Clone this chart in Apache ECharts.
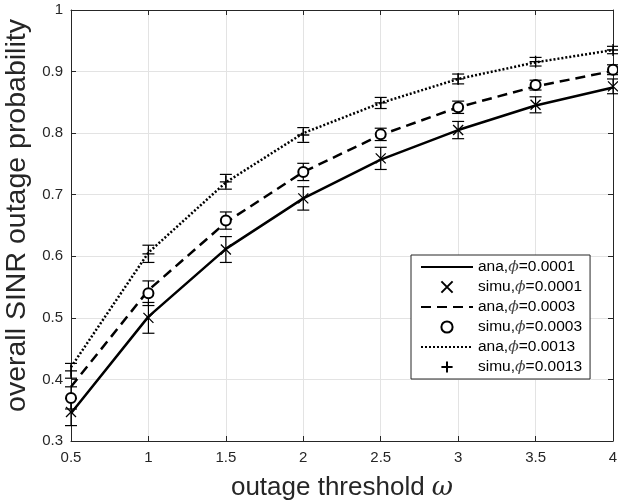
<!DOCTYPE html>
<html lang="en">
<head>
<meta charset="UTF-8">
<title>overall SINR outage probability</title>
<script src="https://cdn.jsdelivr.net/npm/echarts@6/dist/echarts.min.js"></script>
<style>html,body{margin:0;padding:0;background:#fff}</style>
</head>
<body>
<div id="main" style="width:618px;height:504px"></div>
<script>
// outage threshold omega
var thresholds = [0.5, 1, 1.5, 2, 2.5, 3, 3.5, 4];

// phi = 0.0001
var ana1  = [0.345, 0.502, 0.612, 0.694, 0.757, 0.805, 0.845, 0.874];
var simu1 = [0.347, 0.500, 0.611, 0.694, 0.759, 0.805, 0.846, 0.876];
var err1  = [0.022, 0.025, 0.021, 0.019, 0.018, 0.014, 0.013, 0.012];

// phi = 0.0003
var ana2  = [0.388, 0.545, 0.655, 0.737, 0.797, 0.842, 0.876, 0.901];
var simu2 = [0.370, 0.540, 0.658, 0.737, 0.798, 0.842, 0.878, 0.903];
var err2  = [0.018, 0.020, 0.014, 0.014, 0.010, 0.010, 0.008, 0.008];

// phi = 0.0013
var ana3  = [0.420, 0.606, 0.720, 0.800, 0.849, 0.888, 0.915, 0.935];
var simu3 = [0.414, 0.604, 0.721, 0.797, 0.849, 0.888, 0.916, 0.935];
var err3  = [0.012, 0.014, 0.012, 0.012, 0.009, 0.008, 0.007, 0.006];

var names = ['ana,ϕ=0.0001', 'simu,ϕ=0.0001', 'ana,ϕ=0.0003', 'simu,ϕ=0.0003', 'ana,ϕ=0.0013', 'simu,ϕ=0.0013'];

var ink = '#000';
var axisInk = '#262626';
var crossPath = 'path://M0,0L10,10M10,0L0,10';
var plusPath = 'path://M5,0L5,10M0,5L10,5';

function pairs(ys) {
	return thresholds.map(function (x, i) { return [x, ys[i]]; });
}

function anaSeries(name, ys, dash) {
	return {
		name: name,
		type: 'line',
		data: pairs(ys),
		symbol: 'circle',
		showSymbol: false,
		color: ink,
		itemStyle: { opacity: 0 },
		lineStyle: { color: ink, width: 2.5, type: dash },
		z: 4,
		silent: true
	};
}

function simuSeries(name, ys, symbol, size) {
	return {
		name: name,
		type: 'line',
		data: pairs(ys),
		symbol: symbol,
		symbolSize: size,
		showSymbol: true,
		color: ink,
		itemStyle: { color: ink, borderColor: ink, borderWidth: 1.3 },
		lineStyle: { opacity: 0, width: 0 },
		z: 5,
		silent: true
	};
}

function errorSeries(ys, errs) {
	return {
		type: 'custom',
		data: thresholds.map(function (x, i) { return [x, ys[i] - errs[i], ys[i] + errs[i]]; }),
		encode: { x: 0, y: [1, 2] },
		z: 3,
		silent: true,
		renderItem: function (params, api) {
			var lo = api.coord([api.value(0), api.value(1)]);
			var hi = api.coord([api.value(0), api.value(2)]);
			var w = 6;
			var st = { stroke: ink, lineWidth: 1.2 };
			return {
				type: 'group',
				children: [
					{ type: 'line', shape: { x1: lo[0], y1: lo[1], x2: hi[0], y2: hi[1] }, style: st },
					{ type: 'line', shape: { x1: lo[0] - w, y1: lo[1], x2: lo[0] + w, y2: lo[1] }, style: st },
					{ type: 'line', shape: { x1: hi[0] - w, y1: hi[1], x2: hi[0] + w, y2: hi[1] }, style: st }
				]
			};
		}
	};
}

var baseFont = 'Liberation Sans';

var myChart = echarts.init(document.getElementById('main'));
var option = {
	animation: false,
	backgroundColor: '#fff',
	grid: { left: 71, right: 5, top: 10, bottom: 63, outerBoundsMode: 'none' },
	xAxis: [
		{
			type: 'value', min: 0.5, max: 4, interval: 0.5, position: 'bottom',
			axisLine: { onZero: false, lineStyle: { color: axisInk, width: 1 } },
			axisTick: { inside: true, length: 5, lineStyle: { color: axisInk } },
			axisLabel: { color: axisInk, fontSize: 15, margin: 9, fontFamily: baseFont },
			splitLine: { show: true, lineStyle: { color: '#e3e3e3', width: 1 } },
			name: 'outage threshold {i|ω}',
			nameLocation: 'middle',
			nameGap: 34,
			nameTextStyle: {
				color: axisInk, fontSize: 26, fontFamily: baseFont,
				rich: { i: { fontSize: 26, fontStyle: 'italic', fontFamily: 'DejaVu Serif', color: axisInk } }
			}
		},
		{
			type: 'value', min: 0.5, max: 4, interval: 0.5, position: 'top',
			axisLine: { onZero: false, lineStyle: { color: axisInk, width: 1 } },
			axisTick: { inside: true, length: 5, lineStyle: { color: axisInk } },
			axisLabel: { show: false },
			splitLine: { show: false }
		}
	],
	yAxis: [
		{
			type: 'value', min: 0.3, max: 1, interval: 0.1, position: 'left',
			axisLine: { onZero: false, lineStyle: { color: axisInk, width: 1 } },
			axisTick: { inside: true, length: 5, lineStyle: { color: axisInk } },
			axisLabel: { color: axisInk, fontSize: 15, margin: 8, fontFamily: baseFont },
			splitLine: { show: true, lineStyle: { color: '#e3e3e3', width: 1 } },
			name: 'overall SINR outage probability',
			nameLocation: 'middle',
			nameGap: 30,
			nameTextStyle: { color: axisInk, fontSize: 28.5, fontFamily: baseFont, padding: [0, 0, 0, 20] }
		},
		{
			type: 'value', min: 0.3, max: 1, interval: 0.1, position: 'right',
			axisLine: { onZero: false, lineStyle: { color: axisInk, width: 1 } },
			axisTick: { inside: true, length: 5, lineStyle: { color: axisInk } },
			axisLabel: { show: false },
			splitLine: { show: false }
		}
	],
	legend: {
		data: names,
		orient: 'vertical',
		left: 411,
		top: 255,
		itemWidth: 52,
		itemHeight: 14,
		itemGap: 4,
		padding: [4, 8, 4, 9],
		backgroundColor: '#fff',
		borderColor: axisInk,
		borderWidth: 1,
		selectedMode: false,
		formatter: function (name) {
			var p = name.split('ϕ');
			return '{t|' + p[0] + '}{p|ϕ}{t|' + p[1] + '}';
		},
		textStyle: {
			rich: {
				t: { fontSize: 15.5, fontFamily: baseFont, color: ink },
				p: { fontSize: 15.5, fontStyle: 'italic', fontFamily: 'DejaVu Serif', color: '#444' }
			}
		}
	},
	series: [
		errorSeries(simu1, err1),
		errorSeries(simu2, err2),
		errorSeries(simu3, err3),
		anaSeries(names[0], ana1, 'solid'),
		simuSeries(names[1], simu1, crossPath, 10),
		anaSeries(names[2], ana2, [10, 6]),
		simuSeries(names[3], simu2, 'emptyCircle', 10),
		anaSeries(names[4], ana3, [2, 2]),
		simuSeries(names[5], simu3, plusPath, 12)
	]
};

myChart.setOption(option);
</script>
</body>
</html>
